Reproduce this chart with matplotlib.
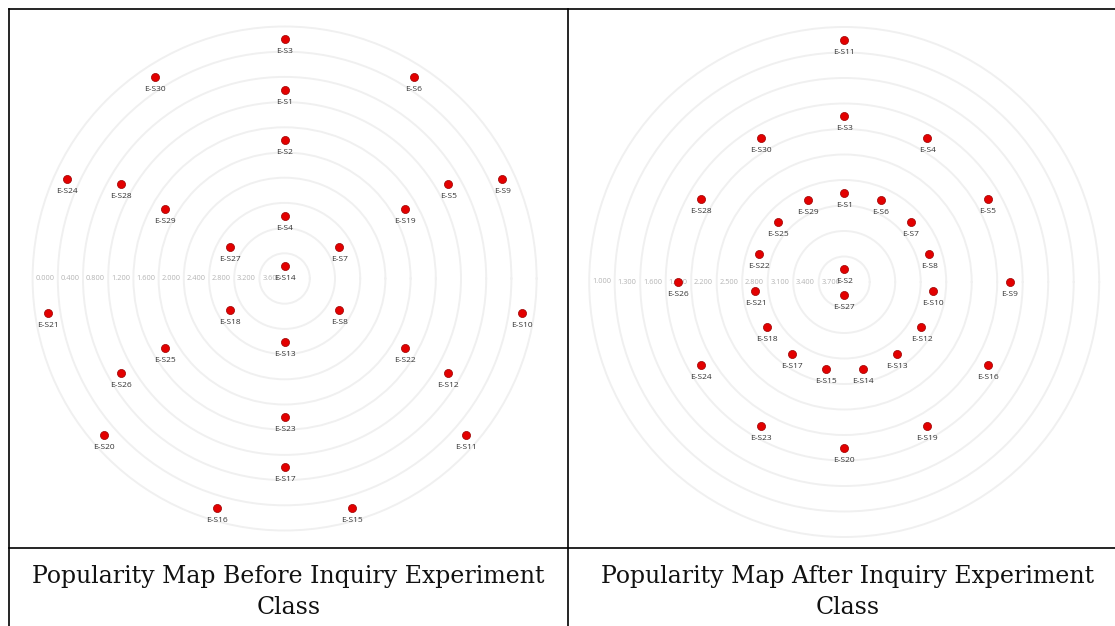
import numpy as np
import matplotlib
matplotlib.use("Agg")
import matplotlib.pyplot as plt
from matplotlib.lines import Line2D

# ---- data ----
# before: score (rings 0.000 .. 3.600, step 0.4), angle of node in degrees
before_names = ["E-S3", "E-S30", "E-S24", "E-S21", "E-S20", "E-S16", "E-S15", "E-S11", "E-S10", "E-S9", "E-S6",
                "E-S1", "E-S28", "E-S26", "E-S17", "E-S12", "E-S5",
                "E-S2", "E-S29", "E-S25", "E-S23", "E-S22", "E-S19",
                "E-S4", "E-S27", "E-S18", "E-S13", "E-S8", "E-S7",
                "E-S14"]
before_scores = [0.2] * 11 + [1.0] * 6 + [1.8] * 6 + [3.0] * 6 + [3.8]
before_angles = [90, 122.7, 155.5, 188.2, 220.9, 253.6, 286.4, 319.1, 351.8, 24.5, 57.3,
                 90, 150, 210, 270, 330, 30,
                 90, 150, 210, 270, 330, 30,
                 90, 150, 210, 270, 330, 30,
                 90]
before_rings = [0.0, 0.4, 0.8, 1.2, 1.6, 2.0, 2.4, 2.8, 3.2, 3.6]

# after: rings 1.000 .. 3.700, step 0.3
after_names = ["E-S11",
               "E-S3", "E-S30", "E-S28", "E-S26", "E-S24", "E-S23", "E-S20", "E-S19", "E-S16", "E-S9", "E-S5", "E-S4",
               "E-S1", "E-S29", "E-S25", "E-S22", "E-S21", "E-S18", "E-S17", "E-S15", "E-S14", "E-S13",
               "E-S12", "E-S10", "E-S8", "E-S7", "E-S6",
               "E-S2", "E-S27"]
after_scores = [1.15] + [2.05] * 12 + [2.95] * 15 + [3.85] * 2
after_angles = [90,
                90, 120, 150, 180, 210, 240, 270, 300, 330, 0, 30, 60,
                90, 114, 138, 162, 186, 210, 234, 258, 282, 306,
                330, 354, 18, 42, 66,
                90, 270]
after_rings = [1.0, 1.3, 1.6, 1.9, 2.2, 2.5, 2.8, 3.1, 3.4, 3.7]

captions = ["Popularity Map Before Inquiry Experiment\nClass",
            "Popularity Map After Inquiry Experiment\nClass"]

W, H = 1115, 626
fig = plt.figure(figsize=(W / 100, H / 100), dpi=100)
fig.patch.set_facecolor("white")


def polar_panel(cx, cy, radius_px, names, scores, angles, rings, top=4.0):
    # r = top - score, outer ring = top - rings[0]
    outer = top - rings[0]
    rmax = outer * 1.03
    box = radius_px * rmax / outer
    ax = fig.add_axes([(cx - box) / W, (H - cy - box) / H, 2 * box / W, 2 * box / H],
                      projection="polar")
    ax.set_ylim(0, rmax)
    ax.set_xticks([])
    ax.set_yticks([top - v for v in rings])
    ax.set_yticklabels([])
    ax.yaxis.grid(True, color="#f0f0f0", lw=1.4)
    ax.xaxis.grid(False)
    ax.spines["polar"].set_visible(False)
    ax.set_facecolor("none")
    for v in rings:
        ax.annotate(f"{v:.3f}", (np.pi, top - v), xytext=(2, 0), textcoords="offset points",
                    ha="left", va="center", fontsize=5.3, color="#b4b4b4",
                    family="Open Sans", zorder=3)
    th = np.radians(angles)
    r = [top - s for s in scores]
    ax.scatter(th, r, s=34, color="#e30000", edgecolors="#9a0000", linewidths=0.5, zorder=5)
    for name, t, rr in zip(names, th, r):
        ax.annotate(name, (t, rr), xytext=(0, -9), textcoords="offset points",
                    ha="center", va="center", fontsize=6, color="#333333",
                    family="Open Sans", zorder=6)
    return ax


polar_panel(284.6, 278.5, 252, before_names, before_scores, before_angles, before_rings)
polar_panel(844.2, 282.0, 255, after_names, after_scores, after_angles, after_rings)

# captions
for x, txt in zip([288.5, 848], captions):
    fig.text(x / W, 1 - 592 / H, txt, ha="center", va="center", fontsize=17,
             family="DejaVu Serif", color="#111111", linespacing=1.42)

# table borders
def hline(y, x0, x1):
    fig.add_artist(Line2D([x0 / W, x1 / W], [1 - y / H, 1 - y / H], color="black", lw=1.2))

def vline(x, y0, y1):
    fig.add_artist(Line2D([x / W, x / W], [1 - y0 / H, 1 - y1 / H], color="black", lw=1.2))

hline(8.5, 8.5, W)
hline(548, 8.5, W)
vline(9, 8.5, H)
vline(568, 8.5, H)

fig.savefig("out.png", dpi=100, facecolor="white")
